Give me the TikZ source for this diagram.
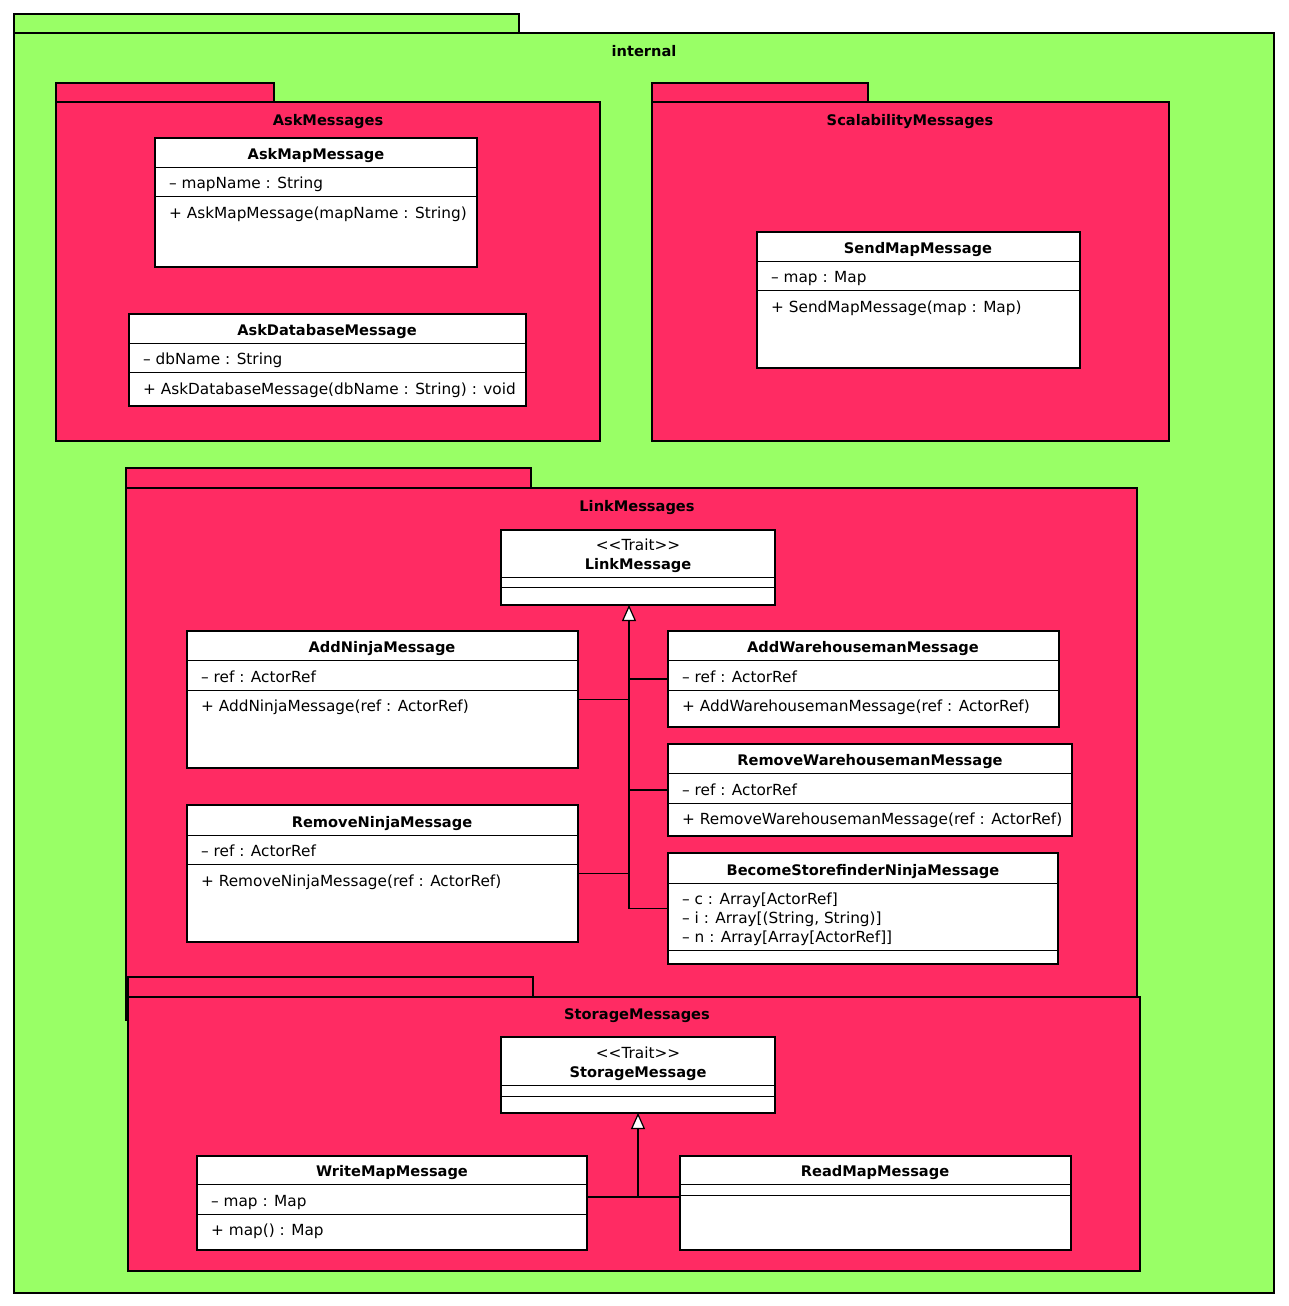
\documentclass[tikz,border=0pt]{standalone}
\usepackage{fontspec}
\setmainfont{DejaVu Sans}
\usetikzlibrary{arrows.meta,positioning,calc}
\definecolor{pkggreen}{RGB}{153,255,102}
\definecolor{pkgred}{RGB}{255,43,99}

\begin{document}
\begin{tikzpicture}[
    x=1pt, y=-1pt,
    font=\fontsize{15.3}{18}\selectfont,
    pkg/.style={draw, line width=2.5pt, anchor=north west, inner sep=0, outer sep=0},
    outerpkg/.style={pkg, fill=pkggreen},
    innerpkg/.style={pkg, fill=pkgred},
    cls/.style={draw, line width=2.5pt, fill=white, anchor=north west, inner sep=0, outer sep=0},
    title/.style={font=\fontsize{14.6}{17}\selectfont\bfseries, inner sep=0, anchor=base, yshift=-6.5pt},
    stereo/.style={inner sep=0, anchor=base, yshift=-6.5pt},
    member/.style={anchor=base west, inner sep=0, yshift=-6.5pt},
    sep/.style={line width=1pt},
    link/.style={line width=1.2pt},
    inherit/.style={link, -{Triangle[fill=white, length=16pt, width=14pt]}}
]
    \useasboundingbox[fill=white] (0,0) rectangle (1288,1306);

    % outer package
    \node[outerpkg, minimum width=505, minimum height=19] (internaltab) at (14,14) {};
    \node[outerpkg, minimum width=1260, minimum height=1260] (internal) at (14,33) {};
    \node[title] (internallbl) at (644,50) {internal};

    % AskMessages
    \node[innerpkg, minimum width=218, minimum height=19] (asktab) at (56,83) {};
    \node[innerpkg, minimum width=544, minimum height=339] (askpkg) at (56,102) {};
    \node[title] (asklbl) at (328,119) {AskMessages};

    \node[cls, minimum width=322, minimum height=129] (askmap) at (155,138) {};
    \node[title] (askmapname) at (316,153) {AskMapMessage};
    \node[member] (askmapa) at (169,182) {– mapName : String};
    \node[member] (askmapm) at (169,212) {+ AskMapMessage(mapName : String)};

    \node[cls, minimum width=397, minimum height=92] (askdb) at (129,314) {};
    \node[title] (askdbname) at (327,329) {AskDatabaseMessage};
    \node[member] (askdba) at (143,358) {– dbName : String};
    \node[member] (askdbm) at (143,388) {+ AskDatabaseMessage(dbName : String) : void};

    % ScalabilityMessages
    \node[innerpkg, minimum width=216, minimum height=19] (scaletab) at (652,83) {};
    \node[innerpkg, minimum width=517, minimum height=339] (scalepkg) at (652,102) {};
    \node[title] (scalelbl) at (910,119) {ScalabilityMessages};

    \node[cls, minimum width=323, minimum height=136] (sendmap) at (757,232) {};
    \node[title] (sendmapname) at (918,247) {SendMapMessage};
    \node[member] (sendmapa) at (771,276) {– map : Map};
    \node[member] (sendmapm) at (771,306) {+ SendMapMessage(map : Map)};

    % LinkMessages
    \node[innerpkg, minimum width=405, minimum height=20] (linktab) at (126,468) {};
    \node[innerpkg, minimum width=1011, minimum height=532] (linkpkg) at (126,488) {};
    \node[title] (linklbl) at (637,505) {LinkMessages};

    \node[cls, minimum width=274, minimum height=75] (linkmsg) at (501,530) {};
    \node[stereo] (linkmsgst) at (638,544) {<{}<Trait>{}>};
    \node[title] (linkmsgname) at (638,563) {LinkMessage};

    \node[cls, minimum width=391, minimum height=137] (addninja) at (187,631) {};
    \node[title] (addninjaname) at (382,646) {AddNinjaMessage};
    \node[member] (addninjaa) at (201,676) {– ref : ActorRef};
    \node[member] (addninjam) at (201,705) {+ AddNinjaMessage(ref : ActorRef)};

    \node[cls, minimum width=391, minimum height=137] (removeninja) at (187,805) {};
    \node[title] (removeninjaname) at (382,821) {RemoveNinjaMessage};
    \node[member] (removeninjaa) at (201,850) {– ref : ActorRef};
    \node[member] (removeninjam) at (201,880) {+ RemoveNinjaMessage(ref : ActorRef)};

    \node[cls, minimum width=391, minimum height=96] (addware) at (668,631) {};
    \node[title] (addwarename) at (863,646) {AddWarehousemanMessage};
    \node[member] (addwarea) at (682,676) {– ref : ActorRef};
    \node[member] (addwarem) at (682,705) {+ AddWarehousemanMessage(ref : ActorRef)};

    \node[cls, minimum width=404, minimum height=92] (removeware) at (668,744) {};
    \node[title] (removewarename) at (870,759) {RemoveWarehousemanMessage};
    \node[member] (removewarea) at (682,789) {– ref : ActorRef};
    \node[member] (removewarem) at (682,818) {+ RemoveWarehousemanMessage(ref : ActorRef)};

    \node[cls, minimum width=390, minimum height=111] (becomestore) at (668,853) {};
    \node[title] (becomestorename) at (863,869) {BecomeStorefinderNinjaMessage};
    \node[member] (becomestorec) at (682,898) {– c : Array[ActorRef]};
    \node[member] (becomestorei) at (682,917) {– i : Array[(String, String)]};
    \node[member] (becomestoren) at (682,936) {– n : Array[Array[ActorRef]]};

    % StorageMessages
    \node[innerpkg, minimum width=405, minimum height=20] (storetab) at (128,977) {};
    \node[innerpkg, minimum width=1012, minimum height=274] (storepkg) at (128,997) {};
    \node[title] (storelbl) at (637,1013) {StorageMessages};

    \node[cls, minimum width=274, minimum height=76] (storagemsg) at (501,1037) {};
    \node[stereo] (storagemsgst) at (638,1052) {<{}<Trait>{}>};
    \node[title] (storagemsgname) at (638,1071) {StorageMessage};

    \node[cls, minimum width=390, minimum height=94] (writemap) at (197,1156) {};
    \node[title] (writemapname) at (392,1170) {WriteMapMessage};
    \node[member] (writemapa) at (211,1200) {– map : Map};
    \node[member] (writemapm) at (211,1229) {+ map() : Map};

    \node[cls, minimum width=391, minimum height=94] (readmap) at (680,1156) {};
    \node[title] (readmapname) at (875,1170) {ReadMapMessage};

    % compartment lines
    \foreach \c/\y in {askmap/167, askmap/196, askdb/343, askdb/372, sendmap/261, sendmap/290,
        linkmsg/577, linkmsg/587, addninja/660, addninja/690, removeninja/835, removeninja/864,
        addware/660, addware/690, removeware/773, removeware/803, becomestore/883, becomestore/950,
        storagemsg/1085, storagemsg/1096, writemap/1184, writemap/1214, readmap/1184, readmap/1195}
        \draw[sep] (\c.west |- 0,\y) -- (\c.east |- 0,\y);

    % generalisation
    \coordinate (linkjoin) at (629,605);
    \draw[inherit] (becomestore.west) -| (linkjoin);
    \draw[link] (addninja.east) -- (addninja.east -| linkjoin);
    \draw[link] (removeninja.east) -- (removeninja.east -| linkjoin);
    \draw[link] (addware.west) -- (addware.west -| linkjoin);
    \draw[link] (removeware.west) -- (removeware.west -| linkjoin);

    \coordinate (storejoin) at (638,1197);
    \draw[link] (writemap.east |- storejoin) -- (readmap.west |- storejoin);
    \draw[inherit] (storejoin) -- (storagemsg.south);
\end{tikzpicture}
\end{document}
